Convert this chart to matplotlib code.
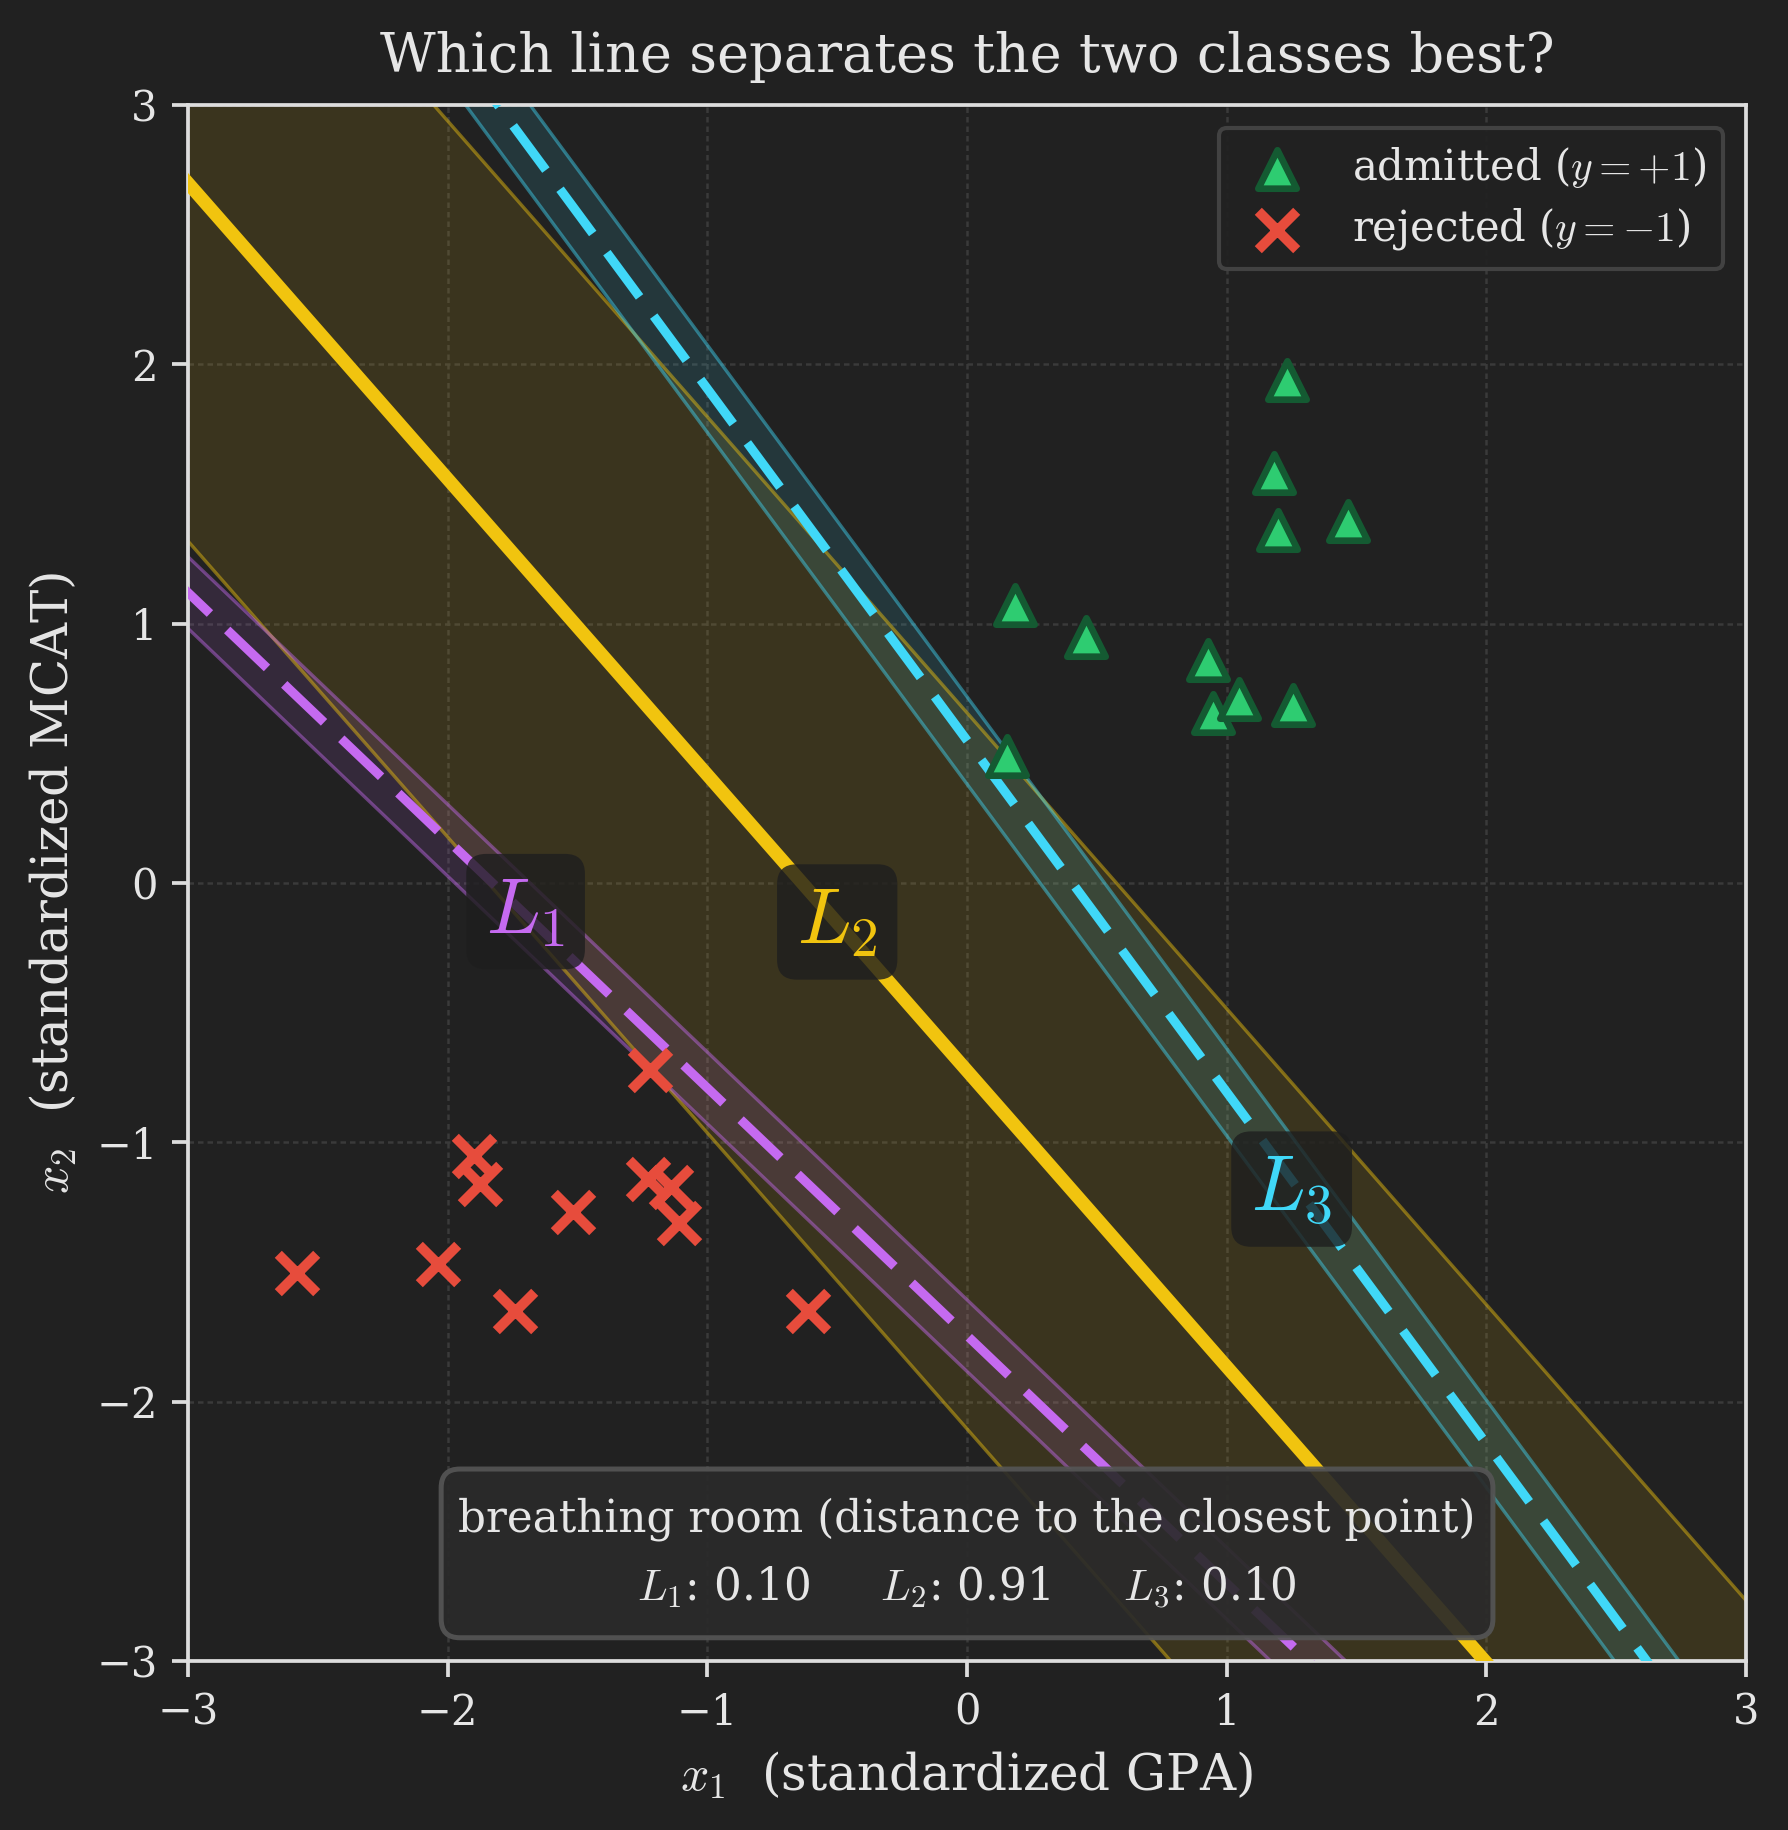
import numpy as np
import matplotlib
matplotlib.use("Agg")
import matplotlib.pyplot as plt
from matplotlib.patches import FancyBboxPatch

plt.rcParams['font.family'] = ['DejaVu Serif']
plt.rcParams['mathtext.fontset'] = 'cm'

BG = '#212121'
FG = '#e6e6e6'

# admitted (y=+1)
pos_x1 = [0.186, 0.459, 0.929, 0.948, 1.048, 1.256, 0.155, 1.198, 1.183, 1.233, 1.468]
pos_x2 = [1.072, 0.948, 0.860, 0.654, 0.709, 0.686, 0.489, 1.363, 1.580, 1.940, 1.396]
# rejected (y=-1)
neg_x1 = [-2.581, -2.039, -1.740, -1.898, -1.874, -1.519, -1.221, -1.229, -1.140, -1.111, -0.614]
neg_x2 = [-1.503, -1.467, -1.650, -1.053, -1.162, -1.268, -0.719, -1.143, -1.172, -1.310, -1.650]

# candidate lines x2 = slope*x1 + icpt, with their margins
line_names = ['L_1', 'L_2', 'L_3']
slopes = [-0.955, -1.141, -1.356]
icpts = [-1.745, -0.724, 0.550]
margins = [0.10, 0.91, 0.10]
colors = ['#c56af0', '#f1c40f', '#40d8f8']
styles = [(0, (6, 2.6)), '-', (0, (6, 2.6))]
widths = [2.2, 3.2, 2.2]
label_pos = [(-1.7, -0.11), (-0.5, -0.15), (1.25, -1.18)]

fig = plt.figure(figsize=(1789/300, 1830/300), dpi=300, facecolor=BG)
ax = fig.add_axes([0.1051, 0.0923, 0.8709, 0.8503])
ax.set_facecolor(BG)

xx = np.linspace(-4, 4, 50)
band_order = [1, 0, 2]
for i in band_order:
    m, c, h = slopes[i], icpts[i], margins[i]
    dy = h*np.sqrt(1 + m**2)
    yc = m*xx + c
    ax.fill_between(xx, yc - dy, yc + dy, color=colors[i], alpha=0.12, lw=0, zorder=1)
    ax.plot(xx, yc - dy, color=colors[i], lw=0.8, alpha=0.45, zorder=1.5)
    ax.plot(xx, yc + dy, color=colors[i], lw=0.8, alpha=0.45, zorder=1.5)

for i in range(3):
    ax.plot(xx, slopes[i]*xx + icpts[i], color=colors[i], ls=styles[i], lw=widths[i], zorder=3)
    ax.text(label_pos[i][0], label_pos[i][1], '$%s$' % line_names[i], color=colors[i],
            fontsize=19, ha='center', va='center', zorder=6,
            bbox=dict(boxstyle='round,pad=0.25', fc='#1e1e1e', ec='none', alpha=0.8))

ax.scatter(pos_x1, pos_x2, marker='^', s=85, c='#2ecc71', edgecolors='#145a32',
           linewidths=1.6, zorder=5, label=r'admitted ($y=+1$)')
ax.scatter(neg_x1, neg_x2, marker='x', s=85, c='#e74c3c', linewidths=2.4,
           zorder=5, label=r'rejected ($y=-1$)')

ax.set_xlim(-3, 3)
ax.set_ylim(-3, 3)
ax.set_xticks(range(-3, 4))
ax.set_yticks(range(-3, 4))
ax.grid(True, color='#3a3a3a', lw=0.6, ls=(0, (2.2, 1.6)), zorder=0)
ax.set_axisbelow(True)
for sp in ax.spines.values():
    sp.set_color('#dddddd')
    sp.set_linewidth(0.9)
ax.tick_params(colors='#dddddd', labelcolor=FG, labelsize=10, length=3.8, width=0.9)

ax.set_xlabel(r'$x_1$  (standardized GPA)', color=FG, fontsize=12)
ax.set_ylabel(r'$x_2$  (standardized MCAT)', color=FG, fontsize=12)
ax.set_title('Which line separates the two classes best?', color=FG, fontsize=13, pad=8)

leg = ax.legend(loc='upper right', fontsize=10, facecolor='#222222', edgecolor='#444444',
                framealpha=0.95, labelcolor=FG, labelspacing=0.4, borderaxespad=0.55)
leg.get_frame().set_linewidth(1.0)

summary = 'breathing room (distance to the closest point)\n' + '     '.join(
    '$%s$: %.2f' % (n, v) for n, v in zip(line_names, margins))
txt = ax.text(0.5, 0.033, summary, transform=ax.transAxes, ha='center', va='bottom',
              fontsize=10.5, color=FG, linespacing=1.65, zorder=7)

# box around the summary: narrow side padding, taller top/bottom padding
fig.canvas.draw()
bb = txt.get_window_extent().transformed(ax.transAxes.inverted())
px, py = 0.011, 0.018
box = FancyBboxPatch((bb.x0 - px, bb.y0 - py), bb.width + 2*px, bb.height + 2*py,
                     boxstyle='round,pad=0,rounding_size=0.012', transform=ax.transAxes,
                     fc='#2a2a2a', ec='#555555', lw=1.2, alpha=0.92, zorder=6.5)
ax.add_patch(box)

fig.savefig('out.png', dpi=300, facecolor=BG)
